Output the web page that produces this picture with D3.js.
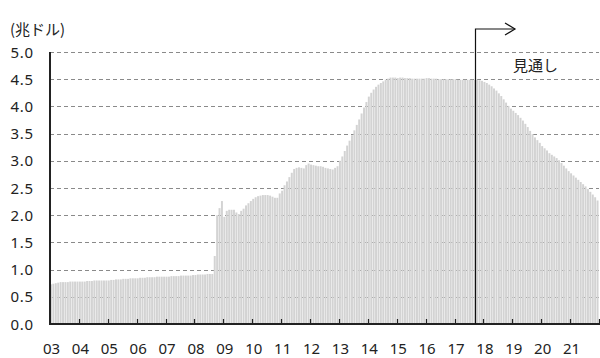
<!DOCTYPE html>
<html>
<head>
<meta charset="utf-8">
<script src="https://cdn.jsdelivr.net/npm/d3@7/dist/d3.min.js"></script>
<style>
  html, body { margin: 0; padding: 0; background: #fff; }
  svg { display: block; }
  text { font-family: "Noto Sans", "Noto Sans CJK JP", sans-serif; fill: #222; }
</style>
</head>
<body>
<svg id="chart" width="600" height="358"></svg>
<script>
// Federal Reserve balance sheet, trillion USD, monthly.
const yearLabels = ["03","04","05","06","07","08","09","10","11","12",
                    "13","14","15","16","17","18","19","20","21"];

// Actual: Jan 2003 – Sep 2017
const actual = [
  0.73,0.74,0.75,0.76,0.77,0.77,0.77,0.77,0.78,0.78,0.78,0.78, // 2003
  0.78,0.78,0.78,0.79,0.79,0.79,0.80,0.80,0.80,0.80,0.80,0.80, // 2004
  0.80,0.81,0.81,0.82,0.82,0.82,0.83,0.83,0.83,0.84,0.84,0.84, // 2005
  0.84,0.85,0.85,0.85,0.86,0.86,0.86,0.86,0.87,0.87,0.87,0.87, // 2006
  0.87,0.87,0.88,0.88,0.88,0.88,0.89,0.89,0.89,0.89,0.89,0.90, // 2007
  0.90,0.91,0.91,0.91,0.91,0.92,0.92,0.92,1.25,2.00,2.13,2.26, // 2008
  1.97,2.08,2.10,2.10,2.10,2.05,2.02,2.08,2.12,2.18,2.22,2.26, // 2009
  2.30,2.33,2.35,2.36,2.37,2.37,2.37,2.36,2.34,2.32,2.32,2.40, // 2010
  2.45,2.55,2.62,2.70,2.78,2.85,2.87,2.88,2.87,2.86,2.92,2.95, // 2011
  2.93,2.92,2.91,2.90,2.90,2.89,2.87,2.86,2.85,2.84,2.87,2.90, // 2012
  3.00,3.08,3.18,3.28,3.37,3.47,3.56,3.66,3.76,3.87,3.98,4.08, // 2013
  4.18,4.25,4.31,4.36,4.40,4.43,4.46,4.49,4.51,4.53,4.53,4.53, // 2014
  4.52,4.53,4.53,4.52,4.52,4.52,4.51,4.51,4.51,4.51,4.51,4.51, // 2015
  4.52,4.52,4.51,4.51,4.51,4.50,4.50,4.50,4.50,4.50,4.50,4.50, // 2016
  4.50,4.49,4.49,4.49,4.49,4.49,4.49,4.49,4.49                 // 2017 Jan–Sep
];

// Outlook: Oct 2017 – Dec 2021
const outlook = [
  4.49,4.48,4.47,                                              // 2017 Oct–Dec
  4.45,4.43,4.40,4.37,4.33,4.29,4.24,4.19,4.13,4.07,4.01,3.96, // 2018
  3.92,3.88,3.84,3.79,3.74,3.68,3.62,3.55,3.49,3.43,3.38,3.33, // 2019
  3.27,3.23,3.19,3.14,3.11,3.08,3.05,3.01,2.96,2.91,2.86,2.81, // 2020
  2.77,2.73,2.69,2.65,2.61,2.57,2.53,2.48,2.43,2.38,2.33,2.27  // 2021
];

const yTicks = [0, 0.5, 1, 1.5, 2, 2.5, 3, 3.5, 4, 4.5, 5];
const unitLabel = "(兆ドル)";
const outlookLabel = "見通し";

const values = actual.concat(outlook);
const months = values.map((v, i) => ({
  key: `${2003 + Math.floor(i / 12)}-${i % 12}`,
  value: v
}));

const svg = d3.select("#chart");
const plotLeft = 50, plotRight = 599, plotTop = 52, plotBottom = 324;

const x = d3.scaleBand()
  .domain(months.map(d => d.key))
  .range([plotLeft, plotRight])
  .padding(0);

const y = d3.scaleLinear().domain([0, 5]).range([plotBottom, plotTop]);

// Left edge of each January band; the year after the last one ends the range
const yearStart = yr => yr <= 2021 ? x(`${yr}-0`) : plotRight;

// Dashed gridlines, drawn beneath the bars
svg.append("g")
  .selectAll("line")
  .data(yTicks.filter(t => t > 0))
  .join("line")
  .attr("x1", plotLeft).attr("x2", plotRight)
  .attr("y1", d => Math.round(y(d)) + 0.5)
  .attr("y2", d => Math.round(y(d)) + 0.5)
  .attr("stroke", "#8a8a8a")
  .attr("stroke-width", 1)
  .attr("stroke-dasharray", "4,3");

// Monthly bars
const gap = 0.45;
svg.append("g")
  .selectAll("rect")
  .data(months)
  .join("rect")
  .attr("x", d => x(d.key))
  .attr("width", x.bandwidth() - gap)
  .attr("y", d => y(d.value))
  .attr("height", d => y(0) - y(d.value))
  .attr("fill", "#d3d3d3");

// Y axis labels
svg.append("g")
  .selectAll("text")
  .data(yTicks)
  .join("text")
  .attr("x", 34)
  .attr("y", d => y(d) + 5.5)
  .attr("text-anchor", "end")
  .attr("font-size", 15)
  .attr("letter-spacing", 0.8)
  .text(d => d.toFixed(1));

// Unit label
svg.append("text")
  .attr("x", 10).attr("y", 35)
  .attr("font-size", 15)
  .style("font-family", "'Noto Sans CJK JP', sans-serif")
  .text(unitLabel);

// X axis with inward year ticks
const yearTicks = d3.range(2004, 2023);
svg.append("g")
  .selectAll("line")
  .data(yearTicks)
  .join("line")
  .attr("x1", d => Math.round(yearStart(d)) + 0.5)
  .attr("x2", d => Math.round(yearStart(d)) + 0.5)
  .attr("y1", plotBottom - 5).attr("y2", plotBottom)
  .attr("stroke", "#222")
  .attr("stroke-width", 1.2);

svg.append("line")
  .attr("x1", plotLeft - 1).attr("x2", plotRight + 1)
  .attr("y1", plotBottom).attr("y2", plotBottom)
  .attr("stroke", "#222").attr("stroke-width", 2);

svg.append("line")
  .attr("x1", plotLeft).attr("x2", plotLeft)
  .attr("y1", plotTop).attr("y2", plotBottom + 1)
  .attr("stroke", "#222").attr("stroke-width", 2);

// Year labels
svg.append("g")
  .selectAll("text")
  .data(yearLabels)
  .join("text")
  .attr("x", (d, i) => yearStart(2003 + i) + 1.5)
  .attr("y", 354)
  .attr("text-anchor", "middle")
  .attr("font-size", 15)
  .text(d => d);

// Outlook marker: vertical rule at the start of the outlook, with arrow
const splitX = Math.round(x(months[actual.length].key)) - 0.5;
const arrowY = 29, arrowEnd = 515;
svg.append("path")
  .attr("d", `M${splitX},${plotBottom} V${arrowY} H${arrowEnd}`)
  .attr("fill", "none").attr("stroke", "#111").attr("stroke-width", 1.2);
svg.append("path")
  .attr("d", `M${arrowEnd - 10},${arrowY - 6} L${arrowEnd},${arrowY} L${arrowEnd - 10},${arrowY + 6}`)
  .attr("fill", "none").attr("stroke", "#111").attr("stroke-width", 1.2);

svg.append("text")
  .attr("x", 513).attr("y", 71)
  .attr("font-size", 15)
  .style("font-family", "'Noto Sans CJK JP', sans-serif")
  .text(outlookLabel);
</script>
</body>
</html>
